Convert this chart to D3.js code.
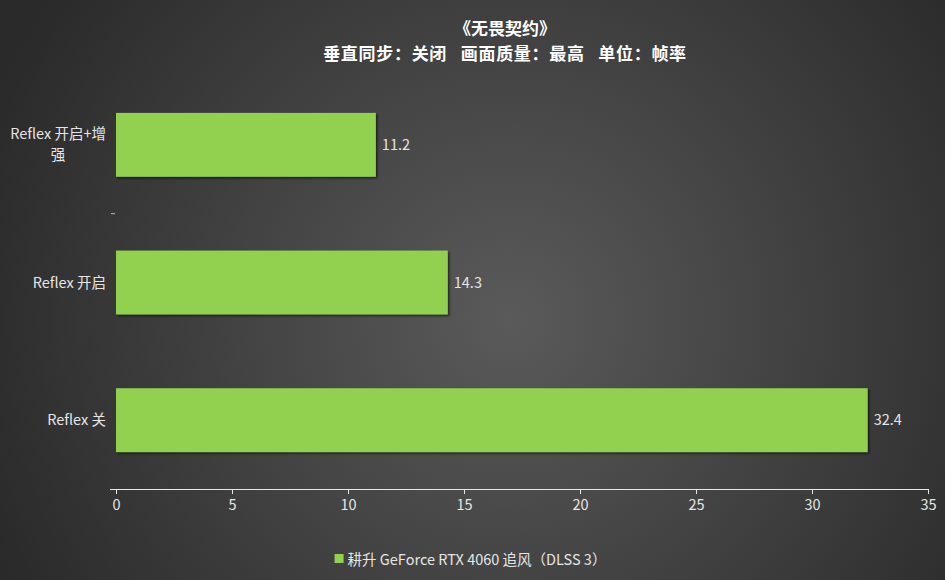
<!DOCTYPE html>
<html>
<head>
<meta charset="utf-8">
<script src="https://cdn.jsdelivr.net/npm/d3@7"></script>
<style>
  html, body { margin: 0; padding: 0; background: #333; }
  svg { display: block; font-family: "Noto Sans CJK SC", "Noto Sans", sans-serif; }
  text { white-space: pre; }
</style>
</head>
<body>
<div id="wrapper"></div>
<script>
// data
const categories = ["Reflex 开启+增强", "Reflex 开启", "Reflex 关"]
const values = [11.2, 14.3, 32.4]
const xTicks = [0, 5, 10, 15, 20, 25, 30, 35]
const titleLines = ["《无畏契约》", "垂直同步：关闭   画面质量：最高   单位：帧率"]
const legendLabel = "耕升 GeForce RTX 4060 追风（DLSS 3）"

const dimensions = {
  width: 945, height: 580,
  margins: {top: 76, bottom: 91, left: 116, right: 17}
}
dimensions.boundsWidth = dimensions.width - dimensions.margins.left - dimensions.margins.right
dimensions.boundsHeight = dimensions.height - dimensions.margins.top - dimensions.margins.bottom

const wrapper = d3.select("#wrapper").append("svg")
  .attr("width", dimensions.width)
  .attr("height", dimensions.height)

// background
const defs = wrapper.append("defs")
const grad = defs.append("radialGradient").attr("id", "bg")
  .attr("gradientUnits", "userSpaceOnUse")
  .attr("cx", 510).attr("cy", 320).attr("r", 560)
grad.append("stop").attr("offset", "0%").attr("stop-color", "#5a5a5a")
grad.append("stop").attr("offset", "100%").attr("stop-color", "#2a2a2a")
const shadow = defs.append("filter").attr("id", "shadow")
  .attr("x", "-5%").attr("y", "-10%").attr("width", "115%").attr("height", "130%")
shadow.append("feDropShadow").attr("dx", 1.5).attr("dy", 1.5).attr("stdDeviation", 1)
  .attr("flood-color", "#000").attr("flood-opacity", 0.6)

wrapper.append("rect").attr("width", dimensions.width).attr("height", dimensions.height)
  .attr("fill", "url(#bg)")

// title
wrapper.append("g").selectAll("text").data(titleLines).enter().append("text")
  .attr("x", 505).attr("y", (d, i) => 35 + i * 24.5)
  .attr("text-anchor", "middle")
  .attr("letter-spacing", (d, i) => i ? 0.7 : 0)
  .attr("fill", "#fff").attr("font-size", 17).attr("font-weight", "bold")
  .text(d => d)

const bounds = wrapper.append("g")
  .attr("transform", `translate(${dimensions.margins.left},${dimensions.margins.top})`)

// scales
const xScale = d3.scaleLinear().domain([0, 35]).range([0, dimensions.boundsWidth])
const yScale = d3.scaleBand().domain(categories).range([0, dimensions.boundsHeight])
  .paddingInner(0.536).paddingOuter(0.268)

const fs = 14.5

// bars
bounds.selectAll("rect.bar").data(values).enter().append("rect")
  .attr("class", "bar")
  .attr("x", 0)
  .attr("y", (d, i) => yScale(categories[i]))
  .attr("width", d => xScale(d))
  .attr("height", yScale.bandwidth())
  .attr("fill", "#92d050")
  .attr("filter", "url(#shadow)")

// value labels
bounds.selectAll("text.val").data(values).enter().append("text")
  .attr("class", "val")
  .attr("x", d => xScale(d) + 6)
  .attr("y", (d, i) => yScale(categories[i]) + yScale.bandwidth() / 2 + 5)
  .attr("fill", "#e6e6e6").attr("font-size", fs)
  .text(d => d)

// x axis
const xAxis = bounds.append("g")
  .attr("transform", `translate(0,${dimensions.boundsHeight})`)
  .call(d3.axisBottom(xScale).tickValues(xTicks).tickSize(5).tickSizeOuter(0).tickPadding(6))
xAxis.select(".domain").attr("stroke", "#e8e8e8").attr("d", `M-6,0.5H${dimensions.boundsWidth + 1}`)
xAxis.selectAll(".tick line").attr("stroke", "#e8e8e8")
xAxis.selectAll(".tick text").attr("fill", "#e6e6e6").attr("font-size", fs)
  .attr("font-family", "\"Noto Sans CJK SC\", \"Noto Sans\", sans-serif")

// category boundary tick
const yStep = yScale.step()
bounds.append("line")
  .attr("x1", -5).attr("x2", -1)
  .attr("y1", yScale(categories[0]) + yScale.bandwidth() / 2 + yStep / 2)
  .attr("y2", yScale(categories[0]) + yScale.bandwidth() / 2 + yStep / 2)
  .attr("stroke", "#bbb")

// category labels, wrapped to fit
const labelRight = -10
const maxLabelW = 100
categories.forEach((c, i) => {
  const cy = yScale(c) + yScale.bandwidth() / 2
  const probe = bounds.append("text").attr("font-size", fs).attr("visibility", "hidden")
  const lines = []
  let cur = ""
  for (const ch of c) {
    probe.text(cur + ch)
    if (probe.node().getComputedTextLength() > maxLabelW && cur) {
      lines.push(cur); cur = ch
    } else cur += ch
  }
  lines.push(cur)
  const widths = lines.map(l => { probe.text(l); return probe.node().getComputedTextLength() })
  probe.remove()
  const blockW = d3.max(widths)
  const lineH = 21
  lines.forEach((l, j) => {
    bounds.append("text")
      .attr("font-size", fs).attr("fill", "#e6e6e6")
      .attr("x", labelRight - blockW / 2)
      .attr("y", cy + 5 + (j - (lines.length - 1) / 2) * lineH)
      .attr("text-anchor", "middle")
      .text(l)
  })
})

// legend
const legend = wrapper.append("g")
const legendText = legend.append("text")
  .attr("y", 565)
  .attr("fill", "#e6e6e6").attr("font-size", fs)
  .text(legendLabel)
const lw = legendText.node().getComputedTextLength()
const lx = (dimensions.width - lw - 13) / 2 - 2
legendText.attr("x", lx + 13)
legend.append("rect").attr("x", lx).attr("y", 554).attr("width", 9).attr("height", 9)
  .attr("fill", "#92d050")
</script>
</body>
</html>
